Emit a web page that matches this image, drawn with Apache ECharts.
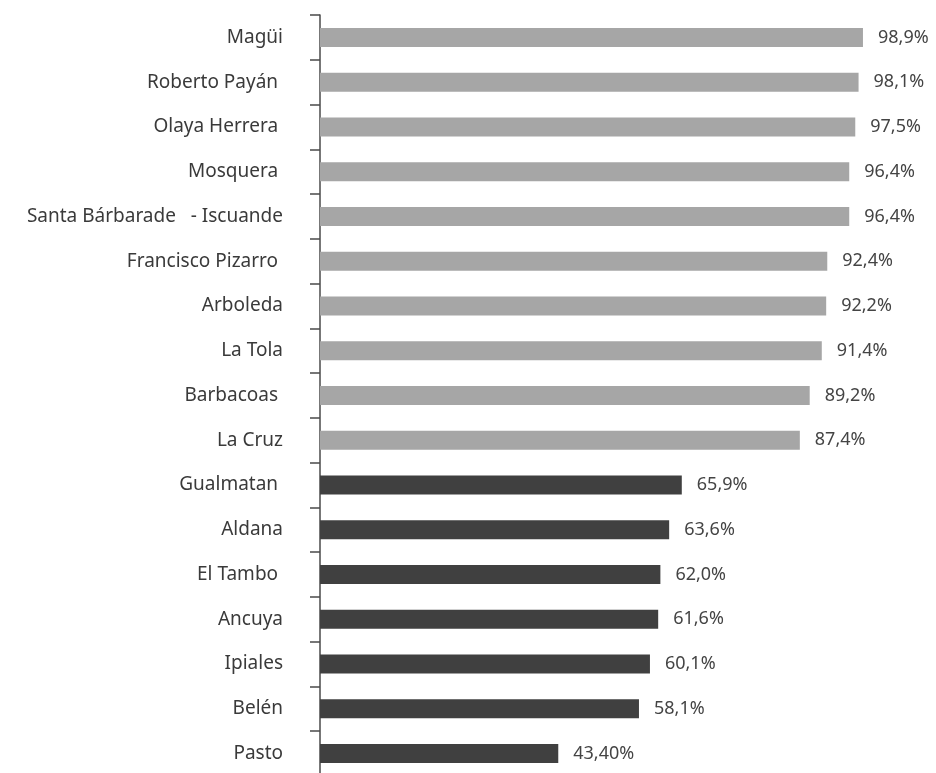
<!DOCTYPE html>
<html>
<head>
<meta charset="utf-8">
<script src="https://cdn.jsdelivr.net/npm/echarts@6/dist/echarts.min.js"></script>
<style>
  html, body { margin: 0; padding: 0; background: #fff; overflow: hidden; }
  /* a little taller than the window: the last tick falls out of view */
  #chart { width: 936px; height: 776px; }
</style>
</head>
<body>
<div id="chart"></div>
<script>
// municipios, de arriba hacia abajo
const municipios = [
    'Magüi', 'Roberto Payán ', 'Olaya Herrera ', 'Mosquera ',
    'Santa Bárbarade   - Iscuande', 'Francisco Pizarro ', 'Arboleda', 'La Tola',
    'Barbacoas ', 'La Cruz', 'Gualmatan ', 'Aldana', 'El Tambo ',
    'Ancuya', 'Ipiales', 'Belén', 'Pasto'
];
const valores = [98.9, 98.1, 97.5, 96.4, 96.4, 92.4, 92.2, 91.4, 89.2, 87.4,
    65.9, 63.6, 62.0, 61.6, 60.1, 58.1, 43.4];
const etiquetas = ['98,9%', '98,1%', '97,5%', '96,4%', '96,4%', '92,4%', '92,2%',
    '91,4%', '89,2%', '87,4%', '65,9%', '63,6%', '62,0%', '61,6%', '60,1%',
    '58,1%', '43,40%'];
// 1 = barra clara, 0 = barra oscura
const grupo = [1, 1, 1, 1, 1, 1, 1, 1, 1, 1, 0, 0, 0, 0, 0, 0, 0];

const chart = echarts.init(document.getElementById('chart'));

const option = {
    backgroundColor: '#fff',
    animation: false,
    grid: {
        left: 320,
        right: 67,
        top: 15,
        bottom: 0
    },
    xAxis: {
        type: 'value',
        min: 0,
        max: 100,
        show: false
    },
    yAxis: {
        type: 'category',
        inverse: true,
        data: municipios,
        axisLine: {
            show: true,
            lineStyle: { color: '#4a4a4a', width: 1.5 }
        },
        axisTick: {
            show: true,
            inside: false,
            length: 10,
            lineStyle: { color: '#4a4a4a', width: 1.5 }
        },
        axisLabel: {
            margin: 37,
            color: '#3a3a3a',
            fontFamily: 'Noto Sans',
            fontSize: 19
        }
    },
    series: [{
        type: 'bar',
        barWidth: 19,
        data: valores.map((v, i) => ({
            value: v,
            itemStyle: { color: grupo[i] ? '#a6a6a6' : '#404040' }
        })),
        label: {
            show: true,
            position: 'right',
            distance: 15,
            color: '#444',
            fontFamily: 'Noto Sans',
            fontSize: 18,
            formatter: p => etiquetas[p.dataIndex]
        }
    }]
};

chart.setOption(option);
</script>
</body>
</html>
